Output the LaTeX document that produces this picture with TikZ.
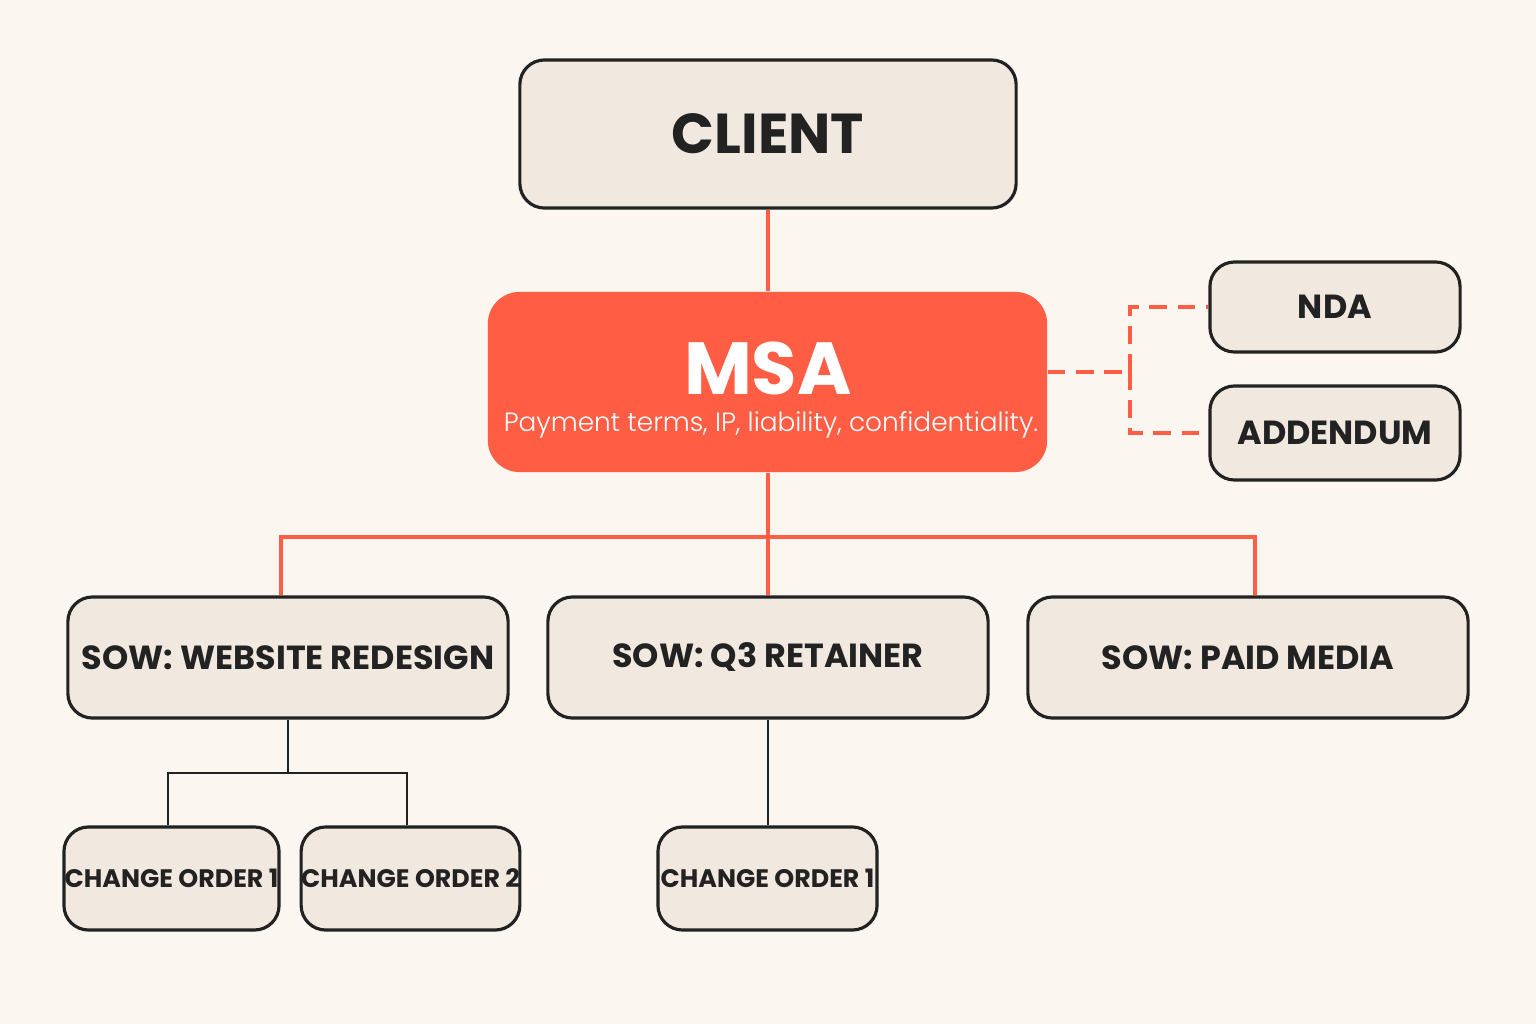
\documentclass[tikz,border=0pt]{standalone}
\usepackage{fontspec}
\setmainfont{Poppins}
\newfontfamily\lightfont{Poppins Light}
\usepackage{tikz}
\usetikzlibrary{arrows.meta}
\definecolor{paper}{HTML}{FBF6EF}
\definecolor{boxfill}{HTML}{F1E9DF}
\definecolor{msared}{HTML}{FF5E45}
\definecolor{ink}{HTML}{222222}
\begin{document}
\begin{tikzpicture}[x=0.01cm,y=-0.01cm,
  doc/.style={draw=ink,line width=0.9pt,fill=boxfill,rounded corners=7pt,inner sep=0pt,text=ink,font=\bfseries},
  link/.style={draw=msared,line width=1.2pt},
  sub/.style={draw=ink,line width=0.8pt}]
%%% background and frame
\fill[paper] (0,0) rectangle (1536,1024);
\useasboundingbox (0,0) rectangle (1536,1024);
%%% top level
\node[doc,minimum width=4.96cm,minimum height=1.48cm,font=\bfseries\fontsize{16}{18}\selectfont] (client) at (768,134) {CLIENT};
\node[fill=msared,rounded corners=9pt,minimum width=5.59cm,minimum height=1.8cm,inner sep=0pt] (msa) at (767.5,382) {};
\node[text=white,font=\bfseries\fontsize{21}{24}\selectfont] (msatitle) at (768,368) {MSA};
\node[text=white,font=\lightfont\fontsize{7.5}{9}\selectfont] (msanote) at (771,425) {Payment terms, IP, liability, confidentiality.};
%%% side documents
\node[doc,minimum width=2.5cm,minimum height=0.9cm,font=\bfseries\fontsize{9.5}{11}\selectfont] (nda) at (1335,307) {NDA};
\node[doc,minimum width=2.5cm,minimum height=0.94cm,font=\bfseries\fontsize{9.5}{11}\selectfont] (add) at (1335,433) {ADDENDUM};
%%% statements of work
\node[doc,minimum width=4.4cm,minimum height=1.21cm,font=\bfseries\fontsize{9.5}{11}\selectfont] (sowweb) at (288,657.5) {SOW:\ WEBSITE REDESIGN};
\node[doc,minimum width=4.4cm,minimum height=1.21cm,font=\bfseries\fontsize{9.5}{11}\selectfont] (sowq3) at (768,657.5) {SOW:\ Q3 RETAINER};
\node[doc,minimum width=4.4cm,minimum height=1.21cm,font=\bfseries\fontsize{9.5}{11}\selectfont] (sowmedia) at (1248,657.5) {SOW:\ PAID MEDIA};
%%% change orders
\node[doc,minimum width=2.15cm,minimum height=1.03cm,font=\bfseries\fontsize{7.2}{9}\selectfont] (coa) at (171.5,878.5) {CHANGE ORDER 1};
\node[doc,minimum width=2.15cm,minimum height=1.03cm,font=\bfseries\fontsize{7.2}{9}\selectfont] (cob) at (410.5,878.5) {CHANGE ORDER 2};
\node[doc,minimum width=2.19cm,minimum height=1.03cm,font=\bfseries\fontsize{7.2}{9}\selectfont] (coc) at (767.5,878.5) {CHANGE ORDER 1};
%%% connectors
\coordinate (bus) at (768,537);
\coordinate (side) at (1130,372);
\coordinate (split) at (288,773);
\draw[link] (client.south) -- (msa.north-|client.south);
\draw[link] (msa.south-|bus) -- (bus);
\draw[link] (bus) -- (sowq3.north);
\draw[link] (bus) -| ([xshift=-0.07cm]sowweb.north);
\draw[link] (bus) -| ([xshift=0.07cm]sowmedia.north);
\draw[msared,line width=1.1pt,dash pattern=on 5pt off 3pt] (msa.east|-side) -- (side) (side) |- (nda.west) (side) |- (add.west);
\draw[sub] (sowweb.south) -- (split);
\draw[sub] (split) -| ([xshift=-0.035cm]coa.north);
\draw[sub] (split) -| ([xshift=-0.035cm]cob.north);
\draw[sub] (sowq3.south) -- (coc.north-|sowq3.south);
\end{tikzpicture}
\end{document}
